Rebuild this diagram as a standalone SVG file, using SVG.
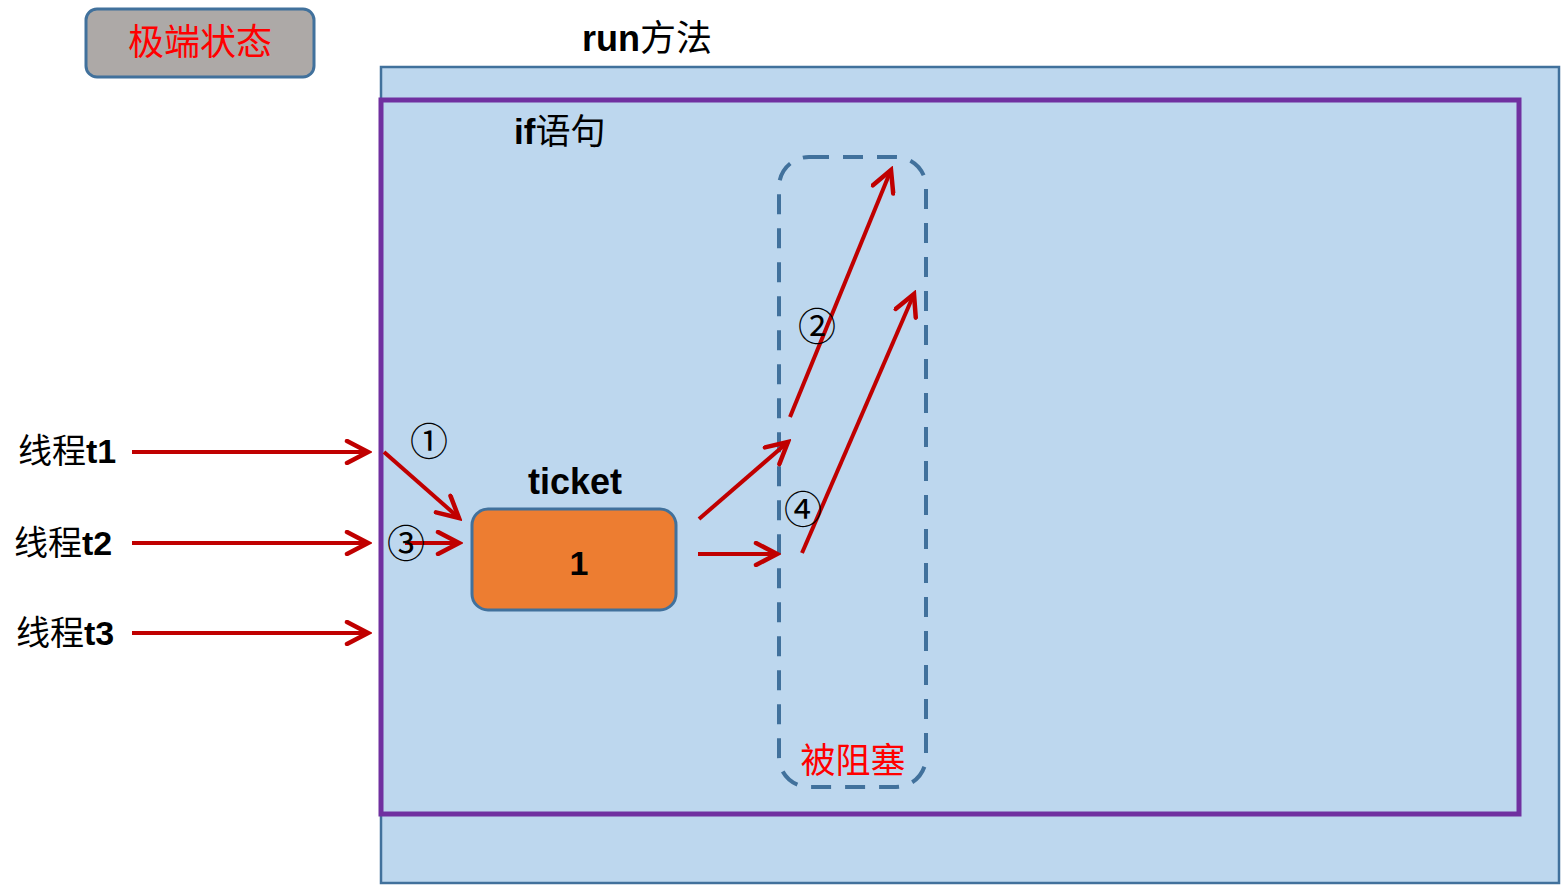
<svg xmlns="http://www.w3.org/2000/svg" width="1565" height="890" viewBox="0 0 1565 890">
<style>
.lbl{font-family:"Liberation Sans","Noto Sans CJK SC",sans-serif;font-size:34px;fill:#000}
.b{font-weight:bold}
.red{font-family:"Noto Sans CJK SC",serif;font-size:36px;fill:#FF0000}
.num{font-family:"Noto Sans CJK SC",sans-serif;font-size:38px;fill:#000;text-anchor:middle;dominant-baseline:central}
.arr{stroke:#C00000;stroke-width:4;fill:none;marker-end:url(#ah)}
</style>
<defs>
<marker id="ah" markerUnits="userSpaceOnUse" viewBox="-24 -13 28 26" refX="0" refY="0" markerWidth="28" markerHeight="26" orient="auto">
<path d="M-21,-11 L0,0 L-21,11" fill="none" stroke="#C00000" stroke-width="4.5" stroke-linecap="round"/>
</marker>
</defs>
<rect width="1565" height="890" fill="#fff"/>
<g id="state">
<rect x="86" y="9" width="228" height="68" rx="11" fill="#ADA9A7" stroke="#41719C" stroke-width="3"/>
<text class="red" x="200" y="55" text-anchor="middle">极端状态</text>
</g>
<g id="run">
<text class="lbl" x="582" y="51" style="font-size:36px"><tspan class="b">run</tspan>方法</text>
<rect x="381" y="67" width="1178" height="816" fill="#BDD7EE" stroke="#41719C" stroke-width="2.5"/>
</g>
<g id="if">
<rect x="381" y="100" width="1138" height="714" fill="none" stroke="#7030A0" stroke-width="5"/>
<text class="lbl" x="514" y="144" style="font-size:35px"><tspan class="b">if</tspan>语句</text>
</g>
<g id="blocked">
<rect x="779" y="157" width="147" height="630" rx="30" fill="none" stroke="#41719C" stroke-width="4" stroke-dasharray="20 14"/>
<text class="red" x="853" y="773" text-anchor="middle" style="font-size:35px">被阻塞</text>
</g>
<g id="ticket">
<text class="lbl b" x="575" y="494" text-anchor="middle" style="font-size:36px">ticket</text>
<rect x="472" y="509" width="204" height="101" rx="16" fill="#ED7D31" stroke="#41719C" stroke-width="3"/>
<text class="lbl b" x="579" y="575" text-anchor="middle">1</text>
</g>
<g id="threads">
<text class="lbl" x="18" y="463">线程<tspan class="b">t1</tspan></text>
<text class="lbl" x="14" y="555">线程<tspan class="b">t2</tspan></text>
<text class="lbl" x="16" y="645">线程<tspan class="b">t3</tspan></text>
</g>
<g id="connectors">
<line class="arr" x1="132" y1="452" x2="368" y2="452"/>
<line class="arr" x1="132" y1="543" x2="368" y2="543"/>
<line class="arr" x1="132" y1="633" x2="368" y2="633"/>
<line class="arr" x1="384" y1="452" x2="459" y2="518"/>
<line class="arr" x1="405" y1="543" x2="459" y2="543"/>
<line class="arr" x1="699" y1="519" x2="788" y2="442"/>
<line class="arr" x1="698" y1="554" x2="777" y2="554"/>
<line class="arr" x1="790" y1="417" x2="891" y2="170"/>
<line class="arr" x1="802" y1="553" x2="914" y2="294"/>
</g>
<g id="marks">
<text class="num" x="429" y="438">①</text>
<text class="num" x="817" y="323">②</text>
<text class="num" x="406" y="540">③</text>
<text class="num" x="803" y="506">④</text>
</g>
</svg>
